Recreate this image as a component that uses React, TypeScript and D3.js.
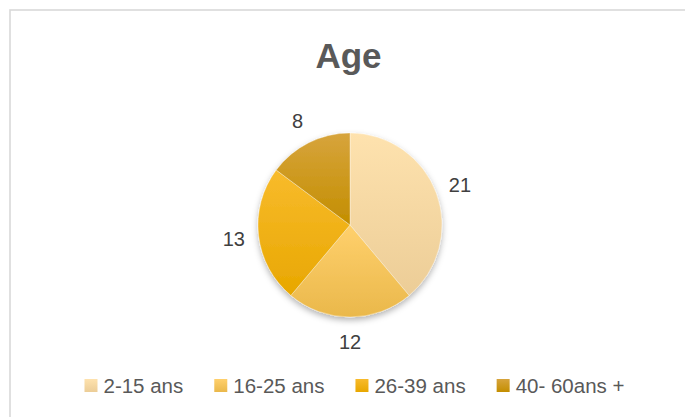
import * as d3 from 'd3';
import * as React from 'react';

const categories = ['2-15 ans', '16-25 ans', '26-39 ans', '40- 60ans +'];
const values = [21, 12, 13, 8];
// top / bottom of each slice's vertical gradient
const topColors = ['#FEE2AE', '#FFD06C', '#F8BB2C', '#D7A43C'];
const bottomColors = ['#ECCD97', '#EAB84B', '#E8A700', '#C38E00'];

const W = 685;
const H = 417;
const cx = 350;
const cy = 225;
const radius = 92;
const labelRadius = 117;

const FONT = '"Liberation Sans", Arial, sans-serif';

export default function App() {
  const legendRefs = React.useRef<(SVGTextElement | null)[]>([]);
  const [textWidths, setTextWidths] = React.useState<number[]>(categories.map((c) => c.length * 10));

  React.useLayoutEffect(() => {
    const w = legendRefs.current.map((t) => (t ? t.getComputedTextLength() : 0));
    setTextWidths(w);
  }, []);

  const arcs = React.useMemo(() => {
    const pie = d3.pie<number>().sort(null).value((d) => d);
    return pie(values);
  }, []);

  const arcGen = d3.arc<d3.PieArcDatum<number>>().innerRadius(0).outerRadius(radius);
  const labelArc = d3.arc<d3.PieArcDatum<number>>().innerRadius(labelRadius).outerRadius(labelRadius);

  // legend layout: swatch, gap, text, spacing
  const swatch = 13;
  const swatchGap = 6;
  const itemGap = 31;
  const itemWidths = textWidths.map((w) => swatch + swatchGap + w);
  const legendWidth = d3.sum(itemWidths) + itemGap * (categories.length - 1);
  let cursor = 354.5 - legendWidth / 2;
  const legendX = itemWidths.map((w) => {
    const x = cursor;
    cursor += w + itemGap;
    return x;
  });
  const legendY = 386;

  return (
    <svg
      width={W}
      height={H}
      style={{ position: 'absolute', left: 0, top: 0, background: '#fff' }}
      fontFamily={FONT}
    >
      <defs>
        {categories.map((c, i) => (
          <linearGradient key={c} id={`grad${i}`} x1="0" y1="0" x2="0" y2="1">
            <stop offset="0%" stopColor={topColors[i]} />
            <stop offset="100%" stopColor={bottomColors[i]} />
          </linearGradient>
        ))}
        <filter id="shadow" x="-20%" y="-20%" width="140%" height="140%">
          <feDropShadow dx="0" dy="3" stdDeviation="3" floodColor="#000" floodOpacity="0.3" />
        </filter>
      </defs>

      <rect x={10} y={10} width={W + 10} height={H + 10} fill="#fff" stroke="#D9D9D9" strokeWidth={1.6} />

      <text x={348.5} y={68} textAnchor="middle" fontSize={35} fontWeight="bold" fill="#595959">
        Age
      </text>

      <g transform={`translate(${cx},${cy})`}>
        <g filter="url(#shadow)">
          {arcs.map((a, i) => (
            <path
              key={i}
              d={arcGen(a) || ''}
              fill={`url(#grad${i})`}
              stroke="#ffffff"
              strokeOpacity={0.45}
              strokeWidth={0.75}
            />
          ))}
        </g>
        {arcs.map((a, i) => {
          const [lx, ly] = labelArc.centroid(a);
          return (
            <text key={i} x={lx} y={ly} dy="0.36em" textAnchor="middle" fontSize={20} fill="#404040">
              {values[i]}
            </text>
          );
        })}
      </g>

      <g>
        {categories.map((c, i) => (
          <g key={c} transform={`translate(${legendX[i]},${legendY})`}>
            <rect x={0} y={-7} width={swatch} height={swatch} fill={`url(#grad${i})`} />
            <text
              ref={(el) => {
                legendRefs.current[i] = el;
              }}
              x={swatch + swatchGap}
              y={0}
              dy="0.36em"
              fontSize={20.5}
              fill="#595959"
            >
              {c}
            </text>
          </g>
        ))}
      </g>
    </svg>
  );
}
